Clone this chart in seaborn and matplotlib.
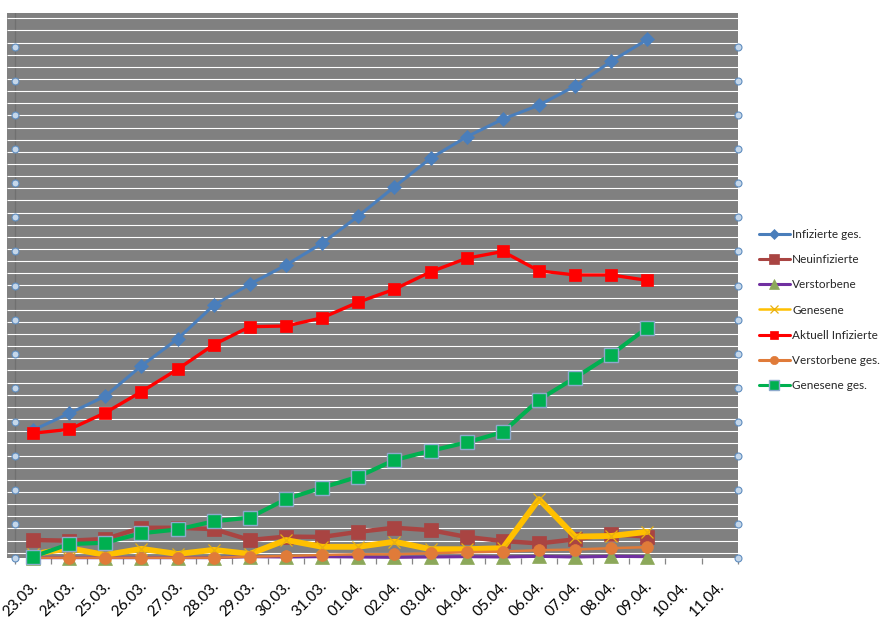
import numpy as np
import pandas as pd
import matplotlib
matplotlib.use("Agg")
import matplotlib.pyplot as plt
import matplotlib.transforms as mtransforms
import seaborn as sns
from matplotlib.lines import Line2D

# ---------------- data ----------------
dates = ["23.03.", "24.03.", "25.03.", "26.03.", "27.03.", "28.03.", "29.03.",
         "30.03.", "31.03.", "01.04.", "02.04.", "03.04.", "04.04.", "05.04.",
         "06.04.", "07.04.", "08.04.", "09.04.", "10.04.", "11.04."]

infizierte_ges = [375, 424, 475, 564, 643, 742, 804, 860, 924, 1004, 1090, 1174,
                  1237, 1289, 1330, 1386, 1459, 1523]
neuinfizierte = [52, 50, 55, 88, 88, 84, 52, 62, 61, 76, 88, 81, 61, 49, 42, 54, 69, 62]
verstorbene = [0, 0, 0, 0, 0, 0, 3, 2, 3, 2, 1, 2, 3, 2, 4, 2, 4, 3]
genesene = [10, 28, 8, 26, 11, 23, 11, 52, 32, 32, 47, 25, 25, 28, 172, 62, 64, 76]
aktuell_infizierte = [366, 377, 426, 488, 554, 626, 679, 681, 705, 751, 789, 840,
                      880, 900, 843, 831, 831, 815]
verstorbene_ges = [0, 0, 0, 0, 0, 0, 3, 5, 8, 10, 10, 13, 16, 18, 22, 24, 28, 31]
genesene_ges = [3, 40, 44, 72, 83, 107, 118, 172, 206, 238, 287, 314, 339, 369,
                464, 529, 597, 676]

series_names = ["Infizierte ges.", "Neuinfizierte", "Verstorbene", "Genesene",
                "Aktuell Infizierte", "Verstorbene ges.", "Genesene ges."]
series_values = [infizierte_ges, neuinfizierte, verstorbene, genesene,
                 aktuell_infizierte, verstorbene_ges, genesene_ges]

y_major = list(range(0, 1600, 100))

# ---------------- styles ----------------
styles = {
    "Infizierte ges.": dict(color="#4A7EBB", lw=2.2, marker="D", ms=7,
                            mfc="#4A7EBB", mec="#4A7EBB", mew=0.5),
    "Neuinfizierte": dict(color="#A94442", lw=3.2, marker="s", ms=9.5,
                          mfc="#A94442", mec="#A94442", mew=0.5),
    "Verstorbene": dict(color="#7030A0", lw=2.2, marker="^", ms=10,
                        mfc="#8CA85A", mec="#8CA85A", mew=0.5),
    "Genesene": dict(color="#FFC000", lw=4.2, marker="x", ms=9,
                     mfc="#E8B010", mec="#E8B010", mew=0.9),
    "Aktuell Infizierte": dict(color="#FF0000", lw=2.4, marker="s", ms=8,
                               mfc="#FF0000", mec="#FF0000", mew=0.5),
    "Verstorbene ges.": dict(color="#E07B39", lw=1.8, marker="o", ms=8.5,
                             mfc="#E07B39", mec="#E07B39", mew=0.5),
    "Genesene ges.": dict(color="#00B050", lw=3.0, marker="s", ms=9.5,
                          mfc="#00B050", mec="#8EAACC", mew=1.0),
}

sns.set_theme(style="white")
plt.rcParams["font.family"] = ["Lato", "DejaVu Sans"]

W, H = 893, 623
fig = plt.figure(figsize=(W / 100, H / 100), dpi=100)
fig.patch.set_facecolor("white")

left_px, right_px, top_px, bottom_px = 7, 737.7, 13.3, 557.7
ax = fig.add_axes([left_px / W, (H - bottom_px) / H,
                   (right_px - left_px) / W, (bottom_px - top_px) / H])
ax.set_facecolor("#808080")

band = (right_px - 15) / len(dates)
xmin = -0.5 - (15 - left_px) / band
xmax = len(dates) - 0.5
ax.set_xlim(xmin, xmax)
ax.set_ylim(0, 1600)

# white horizontal grid lines
grid_y = 14.7 + 35.7 * np.arange(45)
ax.hlines(grid_y, xmin, xmax, colors="white", lw=0.8, zorder=1)
ax.axvline(-0.5, color="#707070", lw=0.9, zorder=0.8)

# series
df = pd.DataFrame({"x": np.arange(len(infizierte_ges))})
for name, vals in zip(series_names, series_values):
    df[name] = vals

for i, name in enumerate(series_names):
    st = styles[name]
    sns.lineplot(data=df, x="x", y=name, ax=ax, estimator=None, sort=False,
                 color=st["color"], lw=st["lw"], marker=st["marker"],
                 markersize=st["ms"], markerfacecolor=st["mfc"],
                 markeredgecolor=st["mec"], markeredgewidth=st["mew"],
                 zorder=3 + i, legend=False, clip_on=False)

# axis circle tick marks (left and right)
for xpos in (-0.5, xmax):
    ax.plot([xpos] * len(y_major), y_major, linestyle="none", marker="o", ms=5,
            mfc="#C5D7EA", mec="#5F8DBF", mew=0.8, clip_on=False, zorder=12)

for s in ax.spines.values():
    s.set_visible(False)

ax.set_xlabel("")
ax.set_ylabel("")
ax.set_yticks([])
ax.set_xticks(np.arange(len(dates)))
ax.set_xticklabels(dates, rotation=45, ha="right", va="center",
                   rotation_mode="anchor", fontsize=11, color="black")
ax.set_xticks(np.arange(-0.5, len(dates), 1.0), minor=True)
ax.tick_params(axis="x", which="major", length=0, pad=19)
ax.tick_params(axis="x", which="minor", length=4, width=0.9, color="#868686",
               direction="out", bottom=True)
offset = mtransforms.ScaledTranslation(3 / 100, 0, fig.dpi_scale_trans)
for lab in ax.get_xticklabels():
    lab.set_transform(lab.get_transform() + offset)

# legend
handles = []
for name in series_names:
    st = styles[name]
    handles.append(Line2D([0], [0], color=st["color"], lw=2.2 if name != "Genesene" else 1.8,
                          marker=st["marker"], markersize=st["ms"] * 0.7,
                          markerfacecolor=st["mfc"], markeredgecolor=st["mec"],
                          markeredgewidth=st["mew"]))
fig.legend(handles, series_names, loc="upper left",
           bbox_to_anchor=(759 / W, 1 - 229 / H), frameon=False,
           borderpad=0, borderaxespad=0, handlelength=2.6, handletextpad=0.2,
           labelspacing=1.2, fontsize=8.5)

fig.savefig("out.png", dpi=100)
